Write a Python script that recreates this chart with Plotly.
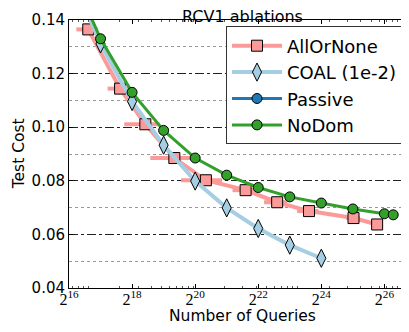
import plotly.graph_objects as go

# ---- data ----
allornone_log2 = [16.61, 17.62, 18.42, 19.34, 20.34, 21.60, 22.60, 23.61, 25.02, 25.77]
allornone_cost = [0.1365, 0.1144, 0.1011, 0.0885, 0.0802, 0.0765, 0.0720, 0.0687, 0.0661, 0.0637]
allornone_err_frac = [0.23, 0.24, 0.37, 0.41, 0.42, 0.25, 0.25, 0.23, 0.15, 0.10]

coal_log2 = [16, 17, 18, 19, 20, 21, 22, 23, 24]
coal_cost = [0.1586, 0.1311, 0.1096, 0.0933, 0.0799, 0.0699, 0.0622, 0.0560, 0.0511]

passive_log2 = []
passive_cost = []

nodom_log2 = [16, 17, 18, 19, 20, 21, 22, 23, 24, 25, 26, 26.28]
nodom_cost = [0.1596, 0.1330, 0.1130, 0.0988, 0.0885, 0.0821, 0.0775, 0.0740, 0.0717, 0.0695, 0.0677, 0.0673]

x_tick_exps = [16, 18, 20, 22, 24, 26]
y_ticks = [0.04, 0.06, 0.08, 0.10, 0.12, 0.14]

# ---- figure ----
def q(exps):
    return [2.0 ** e for e in exps]

a_x = q(allornone_log2)
a_err = [x * f for x, f in zip(a_x, allornone_err_frac)]

fig = go.Figure()
fig.add_trace(go.Scatter(
    x=a_x, y=allornone_cost, name="AllOrNone", mode="lines+markers",
    line=dict(color="#fb9a99", width=4),
    marker=dict(symbol="square", size=11, color="#fb9a99", line=dict(color="black", width=1)),
    error_x=dict(type="data", array=a_err, color="#fb9a99", thickness=4, width=0),
))
fig.add_trace(go.Scatter(
    x=q(coal_log2), y=coal_cost, name="COAL (1e-2)", mode="lines+markers",
    line=dict(color="#a6cee3", width=4),
    marker=dict(symbol="diamond-tall", size=13, color="#a6cee3", line=dict(color="black", width=1)),
))
fig.add_trace(go.Scatter(
    x=q(passive_log2) if passive_log2 else [None], y=passive_cost if passive_cost else [None],
    name="Passive", mode="lines+markers",
    line=dict(color="#1f78b4", width=3),
    marker=dict(symbol="circle", size=10, color="#1f78b4", line=dict(color="black", width=1)),
))
fig.add_trace(go.Scatter(
    x=q(nodom_log2), y=nodom_cost, name="NoDom", mode="lines+markers",
    line=dict(color="#33a02c", width=3),
    marker=dict(symbol="circle", size=10, color="#33a02c", line=dict(color="black", width=1)),
))

# the page body has an 8px margin, so the figure is placed at (8, 8) in the window
OFF = 8
W, H = 409 - OFF, 332 - OFF
L, R, T, B = 69 - OFF, 0, 19.5 - OFF, 332 - 288
pw = W - L - R
ph = H - T - B

def px_x(page_x):
    return (page_x - OFF - L) / pw

def px_y(page_y):
    return (H - B - (page_y - OFF)) / ph

fig.update_layout(
    width=W, height=H,
    margin=dict(l=L, r=R, t=T, b=B, pad=0),
    plot_bgcolor="white", paper_bgcolor="white",
    font=dict(family="DejaVu Sans", size=15, color="black"),
    title=dict(text="RCV1 ablations", x=(242.5 - OFF) / W, xref="container", xanchor="center",
               y=1 - (16 - OFF) / H, yref="container", yanchor="middle",
               font=dict(size=16, family="DejaVu Sans")),
    legend=dict(x=px_x(226), xanchor="left", y=px_y(26), yanchor="top",
                itemwidth=50,
                bgcolor="white", bordercolor="#333", borderwidth=1,
                font=dict(size=18, family="DejaVu Sans")),
    showlegend=True,
)

fig.update_xaxes(
    type="log",
    range=[16 * 0.30103, 26.78 * 0.30103],
    tickvals=q(x_tick_exps),
    ticktext=[f"2<sup>{e}</sup>" for e in x_tick_exps],
    tickfont=dict(family="Liberation Serif", size=16),
    ticklabelstandoff=-3,
    ticks="inside", ticklen=4, tickcolor="black",
    showline=True, linecolor="black", linewidth=1, mirror="ticks",
    showgrid=False, zeroline=False,
    minor=dict(ticks="inside", ticklen=2, tickcolor="#555", dtick="D1", showgrid=False),
)
fig.update_yaxes(
    range=[0.04, 0.14],
    tickvals=y_ticks,
    ticktext=[f"{v:.2f}" for v in y_ticks],
    ticks="inside", ticklen=4, tickcolor="black",
    showline=True, linecolor="black", linewidth=1,
    showgrid=True, gridcolor="#222", gridwidth=1, griddash="dashdot",
    zeroline=False,
    minor=dict(tick0=0.05, dtick=0.02, showgrid=True, gridcolor="#999", griddash="dot", gridwidth=1),
)

fig.add_annotation(text="Number of Queries", xref="paper", yref="paper",
                   x=px_x(242.8), y=px_y(316), xanchor="center", yanchor="middle",
                   showarrow=False, font=dict(size=15.5, family="DejaVu Sans"))
fig.add_annotation(text="Test Cost", xref="paper", yref="paper",
                   x=px_x(19), y=px_y(154), xanchor="center", yanchor="middle", textangle=-90,
                   showarrow=False, font=dict(size=15.5, family="DejaVu Sans"))

fig.write_html("out.html")
